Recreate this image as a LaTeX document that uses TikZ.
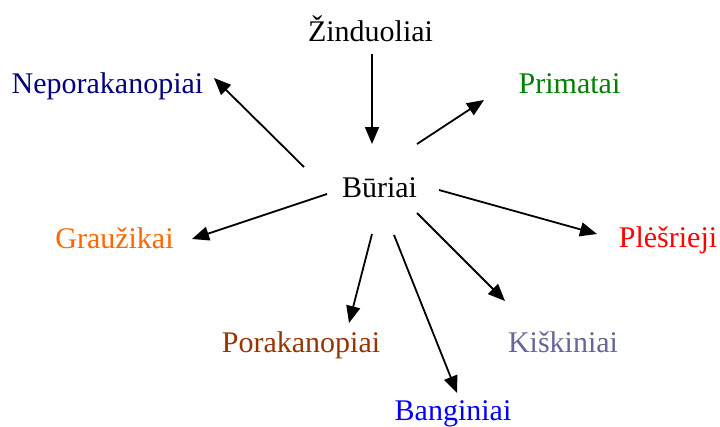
\documentclass[tikz,border=0pt]{standalone}
\usepackage{fontspec}
\setmainfont{Liberation Serif}
\usepackage{tikz}
\usetikzlibrary{arrows.meta, positioning}
\usepackage{xcolor}
\definecolor{NavyBlue}{HTML}{000080}
\definecolor{LeafGreen}{HTML}{008000}
\definecolor{Orange}{HTML}{FF6600}
\definecolor{BrightRed}{HTML}{FF0000}
\definecolor{Brown}{HTML}{993300}
\definecolor{Slate}{HTML}{666699}
\definecolor{PureBlue}{HTML}{0000FF}
\tikzset{
  % Taxon label
  taxon/.style={
    anchor=base, inner sep=0pt,
    font=\fontsize{30}{36}\selectfont
  },
  % Arrow style
  arrow/.style={
    -{Triangle[length=17pt,width=14pt]}, line width=1.8pt, draw=black
  }
}
\begin{document}
\begin{tikzpicture}[x=1pt, y=-1pt]

\useasboundingbox (0,0) rectangle (720,426);

\node[taxon] (zinduoliai) at (370.5,41) {Žinduoliai};
\node[taxon] (buriai) at (379.5,197) {Būriai};

\node[taxon, text=NavyBlue]   (neporakanopiai) at (107.5,93)  {Neporakanopiai};
\node[taxon, text=LeafGreen]  (primatai)       at (569.5,93)  {Primatai};
\node[taxon, text=Orange]     (grauzikai)      at (114.5,248) {Graužikai};
\node[taxon, text=BrightRed]  (plesrieji)      at (668,247)   {Plėšrieji};
\node[taxon, text=Brown]      (porakanopiai)   at (301,352)   {Porakanopiai};
\node[taxon, text=Slate]      (kiskiniai)      at (563,352)   {Kiškiniai};
\node[taxon, text=PureBlue]   (banginiai)      at (453,420)   {Banginiai};

\draw[arrow] ([shift={(1.5,13)}]zinduoliai.base) -- ([shift={(-7.5,-53)}]buriai.base);
\draw[arrow] ([shift={(-75.5,-30)}]buriai.base) -- ([shift={(106.5,-15)}]neporakanopiai.base);
\draw[arrow] ([shift={(37.5,-53)}]buriai.base)  -- ([shift={(-85.5,7)}]primatai.base);
\draw[arrow] ([shift={(-52.5,-3)}]buriai.base)  -- ([shift={(77.5,-9)}]grauzikai.base);
\draw[arrow] ([shift={(59.5,-7)}]buriai.base)   -- ([shift={(-71,-13)}]plesrieji.base);
\draw[arrow] ([shift={(37.5,16)}]buriai.base)   -- ([shift={(-58,-51)}]kiskiniai.base);
\draw[arrow] ([shift={(-7.5,37)}]buriai.base)   -- ([shift={(48,-29)}]porakanopiai.base);
\draw[arrow] ([shift={(14.5,38)}]buriai.base)   -- ([shift={(4,-27)}]banginiai.base);

\end{tikzpicture}
\end{document}
